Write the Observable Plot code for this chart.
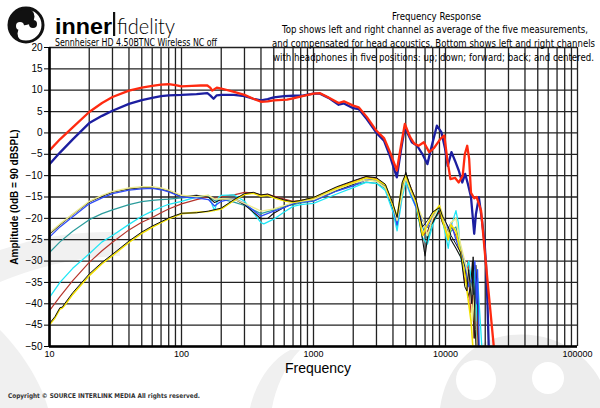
<!DOCTYPE html>
<html><head><meta charset="utf-8">
<script src="https://cdn.jsdelivr.net/npm/d3@7"></script>
<script src="https://cdn.jsdelivr.net/npm/@observablehq/plot@0.6"></script>
<style>html,body{margin:0;padding:0;background:#fff;}</style>
</head><body><div id="chart"></div>
<script>
// ---- tick labels ----
const xTickLabels = [10, 100, 1000, 10000, 100000];
const yTicks = [20, 15, 10, 5, 0, -5, -10, -15, -20, -25, -30, -35, -40, -45, -50];

// ---- top curves (compensated average) ----
const blueTop = [[10,-7.3],[12,-4.6],[15,-1.5],[20,2.3],[25,4.0],[30,5.2],[40,6.8],[50,7.7],[60,8.2],[70,8.6],[80,8.8],[100,8.9],[130,9.1],[157,9.3],[165,8.8],[175,8.0],[185,8.8],[200,8.9],[250,8.9],[300,8.6],[350,8.0],[400,7.6],[450,7.9],[500,8.3],[600,8.6],[700,8.7],[840,8.8],[1000,9.2],[1120,9.2],[1300,8.2],[1550,6.6],[1700,6.9],[2000,5.8],[2200,5.6],[2540,3.2],[3000,0.0],[3420,-1.8],[3800,-5.5],[4280,-10.4],[4600,-4],[4920,1.3],[5560,-2.2],[6100,-3.0],[6700,-5],[7290,-7.3],[7800,-3.5],[8600,1.7],[9300,0.2],[9900,-3.5],[10400,-7.7],[11100,-4.5],[11800,-6.5],[12600,-8.8],[13400,-11.6],[14100,-9.6],[14800,-12],[15600,-15],[16500,-23.6],[17000,-19],[17900,-15.1],[18900,-20.5],[19800,-26],[20300,-31],[20800,-40],[21300,-51]];
const redTop = [[10,-4.1],[12,-1.5],[15,1.3],[20,4.9],[25,7.0],[30,8.4],[40,9.9],[50,10.6],[60,11.0],[70,11.3],[80,11.4],[90,11.2],[100,10.9],[120,11.0],[140,11.1],[157,11.1],[165,10.6],[171,9.9],[185,10.6],[200,10.4],[250,9.6],[300,8.9],[350,8.0],[400,7.3],[450,7.4],[500,7.6],[630,7.8],[700,8.1],[840,8.7],[1000,9.2],[1120,9.3],[1300,8.3],[1550,7.0],[1700,7.4],[2000,6.4],[2200,6.0],[2540,3.7],[3000,0.5],[3420,-1.2],[3800,-4.5],[4280,-8.8],[4600,-3],[4920,2.1],[5400,-1.0],[5800,-2.5],[6250,-3.0],[6850,-2.2],[7530,-4.5],[8200,-3.5],[9150,-1.4],[9800,-0.6],[10300,-6],[10900,-10.8],[11800,-10.5],[12600,-11.6],[13500,-10],[14000,-5],[14600,-3.0],[15100,-6],[15600,-14],[16500,-15.3],[17200,-15.0],[18600,-18.2],[20000,-29],[23300,-50.5]];

// ---- bottom curves (five positions, left & right) ----
const khaki = [[10,-23.4],[12,-21.3],[15,-19.0],[20,-16.0],[25,-14.6],[30,-13.7],[40,-12.9],[50,-12.6],[60,-12.6],[70,-12.9],[80,-13.4],[100,-14.6],[130,-14.9],[160,-14.6],[178,-15.5],[200,-15.4],[250,-15.5],[300,-16.5],[400,-18.3],[500,-17.8],[600,-17.0],[700,-16.3],[800,-16.0],[1000,-15.6],[1500,-13.2],[2000,-11.8],[2500,-11.0],[3000,-11.3],[3500,-12.8],[4000,-17],[4300,-20.5],[4700,-14],[5000,-10.5],[5500,-14],[6000,-16.5],[6700,-20],[7300,-24],[8000,-20],[9000,-17],[9500,-19],[10500,-24],[11000,-21],[12000,-20],[13000,-26],[14500,-32],[15500,-36],[16000,-44],[16500,-38],[17200,-52]];
const black1 = [[10,-23.7],[12,-21.5],[15,-19.1],[20,-16.2],[25,-14.8],[30,-13.9],[40,-13.1],[50,-12.8],[60,-12.8],[70,-13.1],[80,-13.6],[100,-14.9],[130,-14.6],[160,-15.0],[178,-16.3],[200,-15.6],[250,-15.4],[300,-16.8],[400,-20.1],[450,-20.0],[500,-18.8],[600,-17.4],[700,-16.6],[800,-16.0],[1000,-15.8],[1500,-13.5],[2000,-12.0],[2500,-11.0],[3000,-11.2],[3500,-12.5],[4000,-17.5],[4300,-20.6],[4700,-13],[5000,-9.2],[5500,-13.5],[6000,-16.4],[6700,-25],[7000,-28.8],[7500,-22],[8000,-21],[9000,-18],[9500,-21],[10500,-23],[11000,-25],[12000,-27],[13000,-29],[14000,-31],[14800,-38.5],[15500,-36],[16000,-30],[16500,-48],[17000,-31],[17500,-40],[18000,-55]];
const blueLow = [[10,-24.4],[12,-22.0],[15,-19.6],[20,-16.6],[25,-15.2],[30,-14.2],[40,-13.4],[50,-13.1],[60,-13.0],[70,-13.3],[80,-13.8],[100,-15.0],[130,-15.2],[160,-15.6],[178,-17.1],[200,-16.0],[250,-15.3],[300,-16.5],[400,-19.5],[500,-18.3],[600,-17.5],[700,-16.5],[800,-16.2],[1000,-15.9],[1500,-13.6],[2000,-12.4],[2500,-10.9],[3000,-11.1],[3500,-12.7],[4000,-17.2],[4300,-21.5],[4700,-13.5],[5000,-10.5],[5500,-14.5],[6000,-17.5],[6700,-20.5],[7300,-22.1],[8000,-19.5],[9000,-17.2],[9500,-19.5],[10500,-22.5],[11000,-21],[12000,-25],[13000,-28],[14000,-30],[15000,-36],[16000,-34],[16700,-30],[17200,-40],[17500,-32],[18000,-50],[18500,-55]];
const teal = [[10,-28.0],[12,-25.5],[15,-23.0],[20,-20.3],[25,-18.9],[30,-18.0],[40,-16.8],[50,-16.1],[60,-15.8],[70,-15.6],[80,-15.5],[100,-15.2],[130,-14.9],[160,-14.8],[178,-15.8],[200,-15.5],[250,-16.2],[300,-17.0],[400,-18.9],[500,-18.0],[600,-17.2],[700,-16.8],[800,-16.4],[1000,-16.0],[1500,-13.5],[2000,-12.3],[2500,-11.5],[3000,-11.8],[3500,-13],[4000,-18],[4300,-22],[4700,-14],[5000,-11],[5500,-14.5],[6000,-17],[6700,-22],[7300,-25],[8000,-21],[9000,-18.5],[9500,-21],[10500,-25],[11000,-23],[12000,-22],[13000,-27],[14000,-31],[15000,-33],[16000,-40],[16500,-36],[17000,-45],[17500,-52]];
const cyan = [[10,-38.5],[12,-35.0],[15,-31.7],[20,-28.3],[25,-25.5],[30,-24.0],[40,-21.4],[50,-19.5],[60,-18.3],[70,-17.4],[80,-16.7],[100,-16.0],[130,-15.0],[160,-14.6],[178,-18.2],[190,-15.2],[200,-14.6],[250,-14.5],[300,-16.0],[400,-21.0],[420,-21.3],[500,-20.2],[600,-18.5],[700,-17.2],[800,-16.8],[1000,-16.5],[1500,-14.3],[2000,-12.8],[2500,-11.6],[3000,-11.8],[3500,-13.5],[4000,-18.5],[4300,-22.9],[4700,-15],[5000,-11.5],[5500,-15],[6000,-17.5],[6700,-24.5],[7300,-26],[8000,-21.5],[9000,-17.5],[9500,-20.5],[10500,-27],[11000,-22],[12000,-18.2],[12500,-21],[13000,-29],[14000,-33],[15000,-30],[16000,-36],[16500,-32],[17000,-44],[17500,-34],[18500,-46],[19000,-52]];
const brown = [[10,-41.6],[12,-38.3],[15,-34.6],[20,-30.3],[25,-27.6],[30,-25.6],[40,-22.7],[50,-20.9],[60,-19.8],[70,-18.7],[80,-17.8],[100,-16.6],[130,-15.6],[160,-15.0],[178,-15.3],[200,-14.9],[250,-14.5],[300,-13.9],[350,-14.0],[400,-14.6],[450,-14.4],[500,-14.8],[600,-15.5],[700,-16.0],[800,-15.8],[1000,-15.3],[1500,-12.8],[2000,-11.4],[2500,-10.3],[3000,-10.7],[3500,-12.3],[4000,-17],[4300,-20],[4700,-12.5],[5000,-9.8],[5500,-13],[6000,-16],[6700,-24],[7300,-23],[8000,-20.5],[9000,-18.5],[9500,-21],[10500,-24],[11000,-22],[12000,-24],[13000,-27],[14000,-35],[14800,-30],[15500,-42],[16000,-38],[16500,-48],[17000,-36],[17500,-47],[18000,-55]];
const yellow = [[10,-44.9],[11,-43.3],[12,-41.2],[12.5,-41.0],[13,-40.4],[15,-37.8],[20,-33.4],[25,-30.6],[30,-28.7],[40,-25.6],[50,-23.5],[60,-22.1],[70,-21.0],[80,-20.1],[100,-18.9],[130,-18.6],[160,-18.4],[200,-17.8],[250,-15.8],[300,-14.4],[350,-14.1],[400,-14.8],[450,-14.6],[500,-15.2],[600,-15.9],[700,-16.2],[800,-15.9],[1000,-15.2],[1500,-12.9],[2000,-11.6],[2500,-10.5],[3000,-10.9],[3500,-12.2],[4000,-17],[4300,-19.5],[4700,-12],[5000,-10],[5500,-13.3],[6000,-16.2],[6700,-24],[7300,-21.5],[8000,-19],[9000,-17],[9500,-20.5],[10500,-25],[11000,-21.5],[12000,-23],[13000,-28],[14000,-33],[15000,-40],[15600,-44],[16200,-51]];
const black2 = [[10,-44.6],[11,-43.0],[12,-40.9],[12.5,-40.8],[13,-40.0],[15,-37.4],[20,-33.0],[25,-30.3],[30,-28.4],[40,-25.3],[50,-23.2],[60,-21.8],[70,-20.8],[80,-19.9],[100,-18.8],[130,-18.7],[160,-18.3],[200,-17.6],[250,-15.6],[300,-14.2],[350,-13.9],[400,-14.5],[450,-14.3],[500,-14.9],[600,-15.7],[700,-16.1],[800,-15.8],[1000,-15.1],[1500,-12.6],[2000,-11.2],[2500,-10.2],[3000,-10.5],[3500,-12.0],[4000,-16.5],[4300,-19.8],[4700,-11.5],[5000,-9.5],[5500,-13],[6000,-15.8],[6700,-22],[7300,-20.5],[8000,-18.5],[9000,-17.5],[9500,-19.5],[10500,-22],[11000,-24],[12000,-26],[13000,-28],[14000,-36],[14500,-37],[15000,-32],[15800,-40],[16200,-29],[16800,-46],[17300,-55]];

const series = [
  {data: teal, color: "#2b9c9c", w: 1.2},
  {data: brown, color: "#b5342b", w: 1.2},
  {data: cyan, color: "#1fe6f5", w: 1.3},
  {data: black1, color: "#111111", w: 1.1},
  {data: blueLow, color: "#2f4cf5", w: 1.3},
  {data: khaki, color: "#ecea8e", w: 1.4},
  {data: yellow, color: "#f2e000", w: 1.6},
  {data: black2, color: "#111111", w: 1.0},
  {data: blueTop, color: "#1c1ea0", w: 2.3},
  {data: redTop, color: "#ff2a10", w: 2.3}
];

// minor log grid
const xGrid = [];
for (const d of [10, 100, 1000, 10000]) for (let k = 1; k <= 9; k++) xGrid.push(d * k);
xGrid.push(100000);

const marks = [
  Plot.ruleX(xGrid, {stroke: "#222", strokeWidth: 1.3}),
  Plot.ruleY(yTicks, {stroke: "#222", strokeWidth: 1.3}),
];
for (const s of series) {
  marks.push(Plot.line(s.data, {x: d => d[0], y: d => d[1], stroke: s.color, strokeWidth: s.w, clip: true, curve: "linear"}));
}
marks.push(Plot.ruleX([10], {stroke: "#000", strokeWidth: 2.6}));
marks.push(Plot.ruleY([-50], {stroke: "#000", strokeWidth: 2.6}));
marks.push(Plot.axisY({ticks: yTicks, tickSize: 5, tickPadding: 2, fontSize: 10, label: null}));
marks.push(Plot.axisX({ticks: xTickLabels, tickSize: 0, tickPadding: 4, fontSize: 9, tickFormat: d => String(d), label: null}));

const chart = Plot.plot({
  width: 600, height: 408,
  marginLeft: 49, marginRight: 23, marginTop: 47, marginBottom: 62,
  x: {type: "log", domain: [10, 100000]},
  y: {domain: [-50, 20]},
  style: {fontFamily: "'Liberation Sans', Arial, sans-serif", background: "transparent", overflow: "visible"},
  marks
});

const svg = d3.select(chart);
// watermark behind everything
const wm = svg.insert("g", ":first-child");
wm.append("path").attr("d", "M0,250 C40,236 80,231 120,232 L120,256 C80,257 45,264 0,282 Z").attr("fill", "#f1f1f1");
wm.append("path").attr("d", "M0,330 C20,350 40,380 48,408 L0,408 Z").attr("fill", "#f0f0f0");
wm.append("path").attr("d", "M440,408 C445,370 470,340 510,335 C560,330 590,360 600,380 L600,408 Z").attr("fill", "#ededed");
wm.append("circle").attr("cx", 476).attr("cy", 380).attr("r", 20).attr("fill", "#fff");
wm.append("circle").attr("cx", 548).attr("cy", 378).attr("r", 16).attr("fill", "#fff");
wm.append("path").attr("d", "M250,408 C255,385 270,360 290,350 L300,350 C285,365 275,390 272,408 Z").attr("fill", "#f0f0f0");

const T = (x, y) => svg.append("text").attr("x", x).attr("y", y).attr("text-anchor", "start");

// axis titles
svg.append("text").attr("x", 318).attr("y", 373).attr("text-anchor", "middle")
  .attr("font-size", 14).attr("font-family", "'Liberation Sans', Arial, sans-serif").text("Frequency");
svg.append("text").attr("transform", "translate(18,197) rotate(-90)").attr("text-anchor", "middle")
  .attr("font-size", 10).attr("font-weight", "bold").attr("font-family", "'Liberation Sans', Arial, sans-serif")
  .text("Amplitude (0dB = 90 dBSPL)");

// logo
const logo = svg.append("g");
logo.append("circle").attr("cx", 26).attr("cy", 25).attr("r", 17).attr("fill", "#111");
logo.append("path").attr("d", "M26,8 A17,17 0 0,1 26,42 A8.5,8.5 0 0,1 26,25 A8.5,8.5 0 0,0 26,8 Z").attr("fill", "#fff");
logo.append("circle").attr("cx", 26).attr("cy", 25).attr("r", 17).attr("fill", "none").attr("stroke", "#111").attr("stroke-width", 3);
logo.append("circle").attr("cx", 20).attr("cy", 26).attr("r", 4).attr("fill", "#fff");
logo.append("circle").attr("cx", 33).attr("cy", 24).attr("r", 4).attr("fill", "#111");
const narrow = "'Liberation Sans Narrow', 'DejaVu Sans Condensed', Lato, sans-serif";
T(55, 34).attr("font-size", 22).attr("font-weight", "bold")
  .attr("font-family", "'Liberation Sans', Arial, sans-serif").attr("textLength", 57).attr("lengthAdjust", "spacingAndGlyphs").text("inner");
svg.append("rect").attr("x", 113).attr("y", 12).attr("width", 2.2).attr("height", 24).attr("fill", "#111");
T(117, 34).attr("font-size", 22).attr("font-weight", "300")
  .attr("font-family", "Lato, 'Open Sans', sans-serif").attr("textLength", 58).attr("lengthAdjust", "spacingAndGlyphs").text("fidelity");
T(55, 46).attr("font-size", 10)
  .attr("font-family", narrow).attr("textLength", 162).attr("lengthAdjust", "spacingAndGlyphs")
  .text("Sennheiser HD 4.50BTNC Wireless NC off");

// title block
const tl = [
  {t: "Frequency Response", x1: 392, x2: 481, y: 20},
  {t: "Top shows left and right channel as average of the five measurements,", x1: 282, x2: 588, y: 33},
  {t: "and compensated for head acoustics. Bottom shows left and right channels", x1: 272, x2: 595, y: 47},
  {t: "with headphones in five positions: up; down; forward; back; and centered.", x1: 273, x2: 594, y: 61}
];
for (const l of tl) {
  T(l.x1, l.y).attr("font-size", 10.2).attr("font-family", narrow)
    .attr("textLength", l.x2 - l.x1).attr("lengthAdjust", "spacingAndGlyphs").text(l.t);
}
// copyright
T(8, 398).attr("font-size", 6.5).attr("font-weight", "bold").attr("fill", "#333")
  .attr("font-family", narrow).attr("textLength", 192).attr("lengthAdjust", "spacingAndGlyphs")
  .text("Copyright © SOURCE INTERLINK MEDIA All rights reserved.");

document.getElementById("chart").appendChild(chart);
</script>
</body></html>
